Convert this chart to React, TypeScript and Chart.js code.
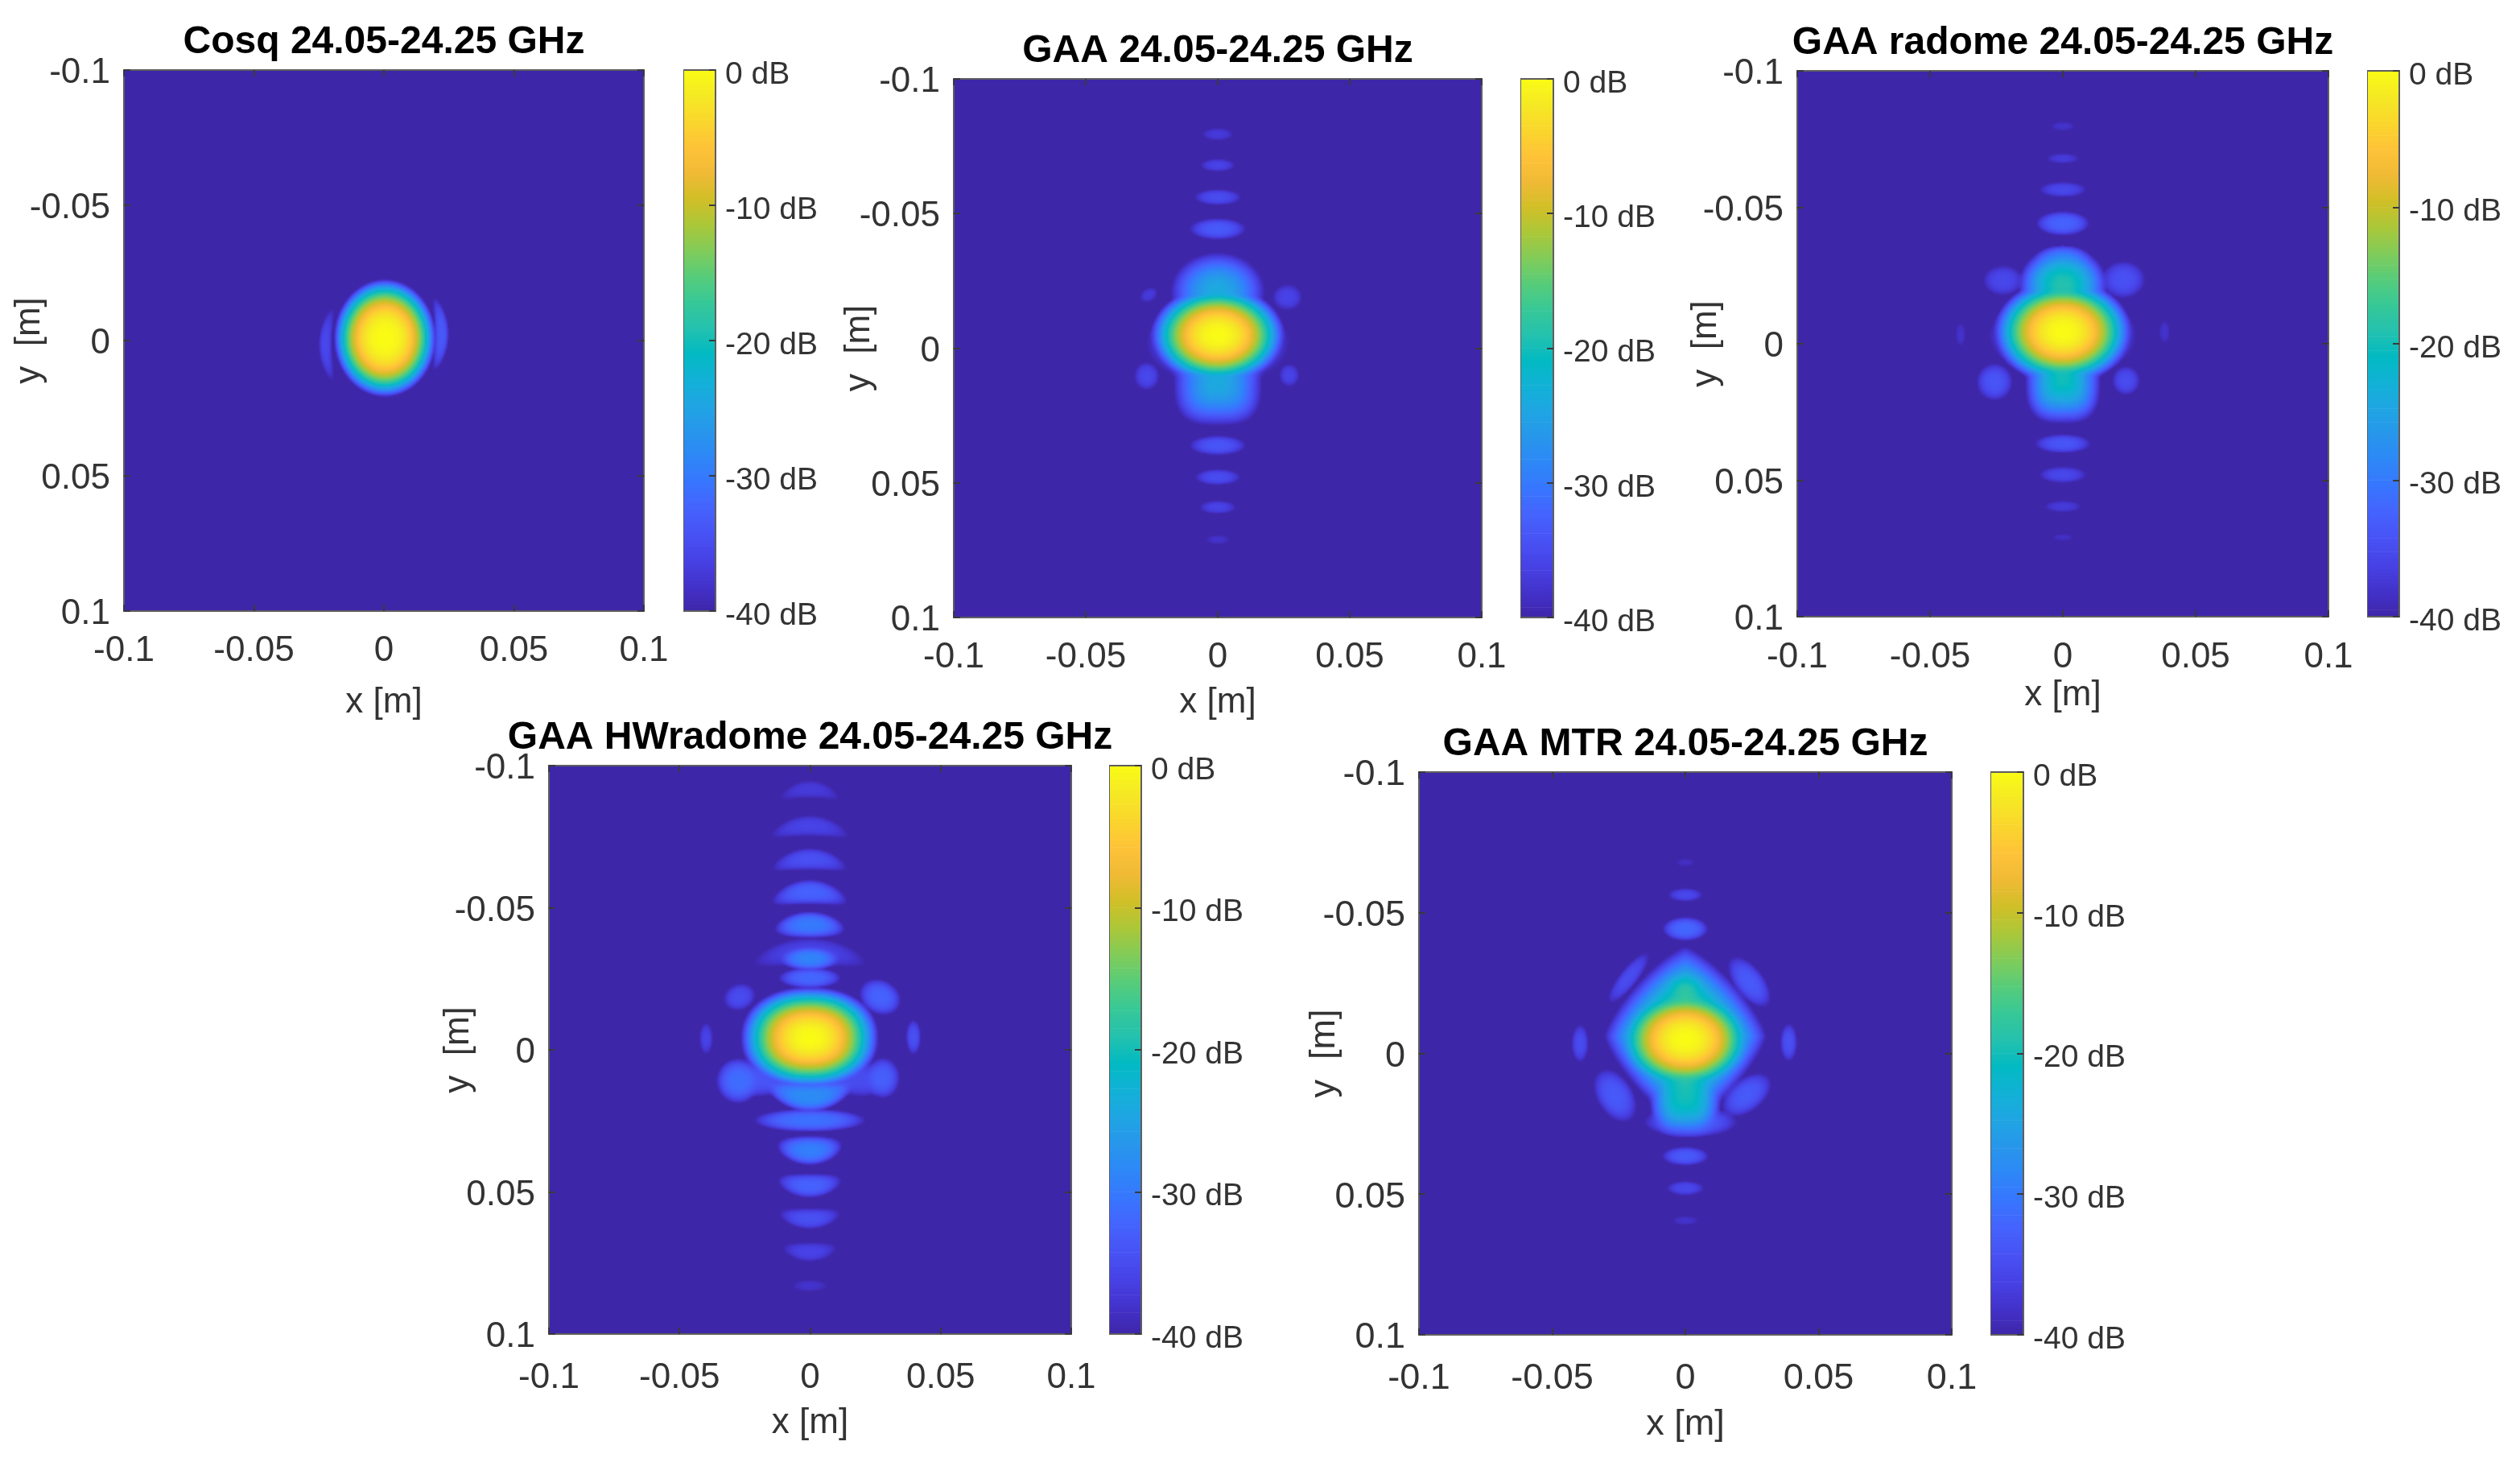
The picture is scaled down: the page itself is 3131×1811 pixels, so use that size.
import React, { useEffect, useRef } from "react";
import { Chart, registerables } from "chart.js";

Chart.register(...registerables);

const FONT = "'Liberation Sans', Arial, sans-serif";

// Axis ticks shared by all panels (metres; the y axis runs downward)
const axisTicks = [-0.1, -0.05, 0, 0.05, 0.1];
const axisTickLabels = ["-0.1", "-0.05", "0", "0.05", "0.1"];
const colorbarTicks = [-40, -30, -20, -10, 0];
const colorbarTickLabels = ["-40 dB", "-30 dB", "-20 dB", "-10 dB", "0 dB"];

// Colour map from -40 dB (first) to 0 dB (last)
const colormap = [
  [62, 38, 168], [67, 50, 203], [71, 65, 229], [72, 82, 244], [69, 99, 253], [56, 117, 254],
  [46, 135, 247], [39, 150, 235], [32, 165, 227], [18, 177, 214], [2, 186, 195], [36, 193, 174],
  [55, 200, 151], [87, 204, 122], [129, 204, 89], [171, 199, 57], [209, 191, 39], [240, 186, 54],
  [254, 195, 56], [250, 214, 45], [245, 233, 36], [249, 251, 21],
];

// Lobes: x, y, half-width, half-height (m), peak dB, roll-off, tilt (deg), bend, squareness
type Lobe = number[];

const cosqLobes: Lobe[] = [
  [0.0004, -0.0009, 0.0197, 0.0218, 0, 2.9],
  [-0.0225, 0.0015, 0.0134, 0.0026, -35.5, 3, 90, -15],
  [0.0222, -0.0024, 0.0134, 0.0028, -33.5, 3, 90, 15],
];

const gaaLobes: Lobe[] = [
  [0, -0.0047, 0.0254, 0.0185, 0, 2.35],
  [0, -0.002, 0.0272, 0.016, -30, 2],
  [0, -0.021, 0.0178, 0.0145, -24, 2],
  [0, 0.0125, 0.0168, 0.0165, -24, 2, 0, 0, 3],
  [0, -0.0794, 0.0059, 0.0023, -37],
  [0, -0.0679, 0.0066, 0.0024, -36],
  [0, -0.056, 0.0089, 0.003, -35],
  [0, -0.0442, 0.0107, 0.004, -33.5],
  [0, 0.0363, 0.0107, 0.0037, -34],
  [0, 0.0481, 0.0086, 0.003, -35],
  [0, 0.0593, 0.0069, 0.0025, -36],
  [0, 0.0713, 0.0046, 0.0016, -38],
  [-0.0261, -0.0197, 0.0035, 0.0025, -37, 3, -30],
  [0.0264, -0.0188, 0.0056, 0.0048, -36],
  [-0.0269, 0.0105, 0.0048, 0.0052, -35.5],
  [0.0271, 0.0102, 0.0038, 0.0042, -36],
];

const radomeLobes: Lobe[] = [
  [0, -0.0044, 0.026, 0.0195, 0, 2.35],
  [0, -0.003, 0.028, 0.0155, -30, 2],
  [0, -0.0215, 0.0167, 0.0145, -19, 2.2],
  [0, -0.0307, 0.0106, 0.0053, -30],
  [0, 0.0125, 0.0143, 0.0168, -20, 2, 0, 0, 3],
  [0, -0.0797, 0.0045, 0.0016, -38],
  [0, -0.0679, 0.0061, 0.0019, -37],
  [0, -0.0565, 0.0089, 0.0028, -35.5],
  [0, -0.0441, 0.0101, 0.0045, -32.5],
  [0, 0.0366, 0.0106, 0.0035, -34],
  [0, 0.048, 0.0089, 0.003, -35.5],
  [0, 0.0596, 0.0069, 0.0021, -37],
  [0, 0.0709, 0.004, 0.0013, -38.5],
  [-0.0225, -0.0232, 0.0075, 0.0055, -35.5],
  [0.0228, -0.0235, 0.0082, 0.0068, -34.5],
  [-0.0257, 0.014, 0.0068, 0.0068, -34],
  [0.0238, 0.0135, 0.0052, 0.0053, -35],
  [-0.0385, -0.0034, 0.0019, 0.0042, -38],
  [0.0383, -0.0044, 0.002, 0.0042, -38],
];

const hwRadomeLobes: Lobe[] = [
  [0, -0.0042, 0.0265, 0.018, 0, 2.35, 0, 0, 2.2],
  [0, -0.0917, 0.0113, 0.0031, -37, 3, 0, 23],
  [0, -0.0788, 0.0148, 0.0037, -36, 3, 0, 15],
  [0, -0.0671, 0.0142, 0.0039, -34.5, 3, 0, 15],
  [0, -0.0555, 0.0145, 0.0044, -32.5, 3, 0, 15],
  [0, -0.044, 0.0135, 0.0047, -30, 3, 0, 8],
  [0, -0.0321, 0.0115, 0.0043, -29],
  [0, -0.0345, 0.0215, 0.0049, -36, 3, 0, 8],
  [0, -0.0253, 0.012, 0.0037, -32],
  [0, 0.0164, 0.0175, 0.0055, -28, 3, 0, -15],
  [0, 0.0248, 0.0215, 0.0041, -31],
  [0, 0.0354, 0.0125, 0.0052, -29.5, 3, 0, -10],
  [0, 0.0478, 0.0122, 0.0043, -32.5, 3, 0, -12],
  [0, 0.0594, 0.0116, 0.0037, -34.5, 3, 0, -12],
  [0, 0.0711, 0.0102, 0.0034, -36, 3, 0, -12],
  [0, 0.083, 0.0067, 0.0021, -38],
  [-0.0269, -0.0186, 0.0062, 0.0047, -35, 3, -15],
  [0.027, -0.0186, 0.0082, 0.0061, -32.5, 3, 20],
  [-0.0397, -0.004, 0.0026, 0.0055, -36],
  [0.0398, -0.0045, 0.0029, 0.0061, -34.5],
  [-0.0274, 0.0109, 0.0085, 0.008, -31.5],
  [0.028, 0.0099, 0.0066, 0.0072, -33],
  [-0.02, 0.0105, 0.012, 0.006, -34],
  [0.02, 0.0105, 0.012, 0.006, -35],
];

const mtrLobes: Lobe[] = [
  [0, -0.0048, 0.026, 0.019, 0, 2.35],
  [0, -0.006, 0.0305, 0.032, -15, 2.5, 0, 0, 1.3],
  [0, -0.0222, 0.0121, 0.0095, -19, 2],
  [0, 0.0145, 0.0135, 0.0155, -20, 2.5, 0, 0, 3],
  [0.002, 0.0245, 0.0175, 0.0055, -33],
  [0, -0.0678, 0.0035, 0.0014, -38.5],
  [0, -0.0563, 0.0065, 0.0024, -35.5],
  [0, -0.0442, 0.0086, 0.0043, -32],
  [0, 0.0367, 0.0088, 0.0034, -33.5],
  [0, 0.0481, 0.007, 0.0026, -35.5],
  [0, 0.0596, 0.0048, 0.0016, -38],
  [-0.0213, -0.0268, 0.0113, 0.0033, -35, 3, -50],
  [0.024, -0.0253, 0.0108, 0.0054, -33.5, 3, 50],
  [-0.0264, 0.0152, 0.0105, 0.0067, -33.5, 3, 55],
  [0.023, 0.0149, 0.0105, 0.006, -33.5, 3, -35],
  [-0.0395, -0.0034, 0.0032, 0.0067, -35],
  [0.0388, -0.0038, 0.0032, 0.0067, -34.5],
];

const panels = [
  { title: "Cosq 24.05-24.25 GHz", lobes: cosqLobes, box: [154, 87, 800, 759], bar: [849, 889], xOff: 114, yOff: 117, tickPad: 28, font: 44 },
  { title: "GAA 24.05-24.25 GHz", lobes: gaaLobes, box: [1185, 98, 1841, 767], bar: [1889, 1930], xOff: 106, yOff: 117, tickPad: 28, font: 44 },
  { title: "GAA radome 24.05-24.25 GHz", lobes: radomeLobes, box: [2233, 88, 2893, 766], bar: [2941, 2981], xOff: 98, yOff: 113, tickPad: 29, font: 44 },
  { title: "GAA HWradome 24.05-24.25 GHz", lobes: hwRadomeLobes, box: [682, 951, 1331, 1657], bar: [1378, 1418], xOff: 111, yOff: 112, tickPad: 33, font: 44 },
  { title: "GAA MTR 24.05-24.25 GHz", lobes: mtrLobes, box: [1763, 959, 2425, 1658], bar: [2473, 2514], xOff: 112, yOff: 117, tickPad: 32, font: 45 },
];

const TOP = 80;
const SIDE = 150;
const BOTTOM = 140;
const TICK = -8;
const TICK_COLOR = "#3a3a3a";
const TEXT_COLOR = "#333333";
const FRAME_COLOR = "#5e5e5e";
const BLUR = "blur(0.7px)";

function colorAt(db: number): number[] {
  const t = Math.max(0, Math.min(1, (db + 40) / 40)) * (colormap.length - 1);
  const i = Math.min(colormap.length - 2, Math.floor(t));
  const f = t - i;
  return [0, 1, 2].map((k) => colormap[i][k] + (colormap[i + 1][k] - colormap[i][k]) * f);
}

function lobeValue(p: any, x: number, y: number): number {
  const dx = x - p.x;
  const dy = y - p.y;
  const a = (p.rot * Math.PI) / 180;
  const u = dx * Math.cos(a) + dy * Math.sin(a);
  const v = -dx * Math.sin(a) + dy * Math.cos(a) - p.bend * u * u;
  const d = Math.pow(Math.pow(Math.abs(u / p.rx), p.sq) + Math.pow(Math.abs(v / p.ry), p.sq), 1 / p.sq);
  if (d >= 1) return -40;
  return p.db - (40 + p.db) * Math.pow(d, p.roll);
}

const framePlugin = {
  id: "frame",
  afterDatasetsDraw(chart: any) {
    const { ctx, chartArea: a } = chart;
    ctx.save();
    ctx.strokeStyle = FRAME_COLOR;
    ctx.lineWidth = 2;
    ctx.strokeRect(a.left, a.top, a.right - a.left, a.bottom - a.top);
    ctx.restore();
  },
};

const heatPlugin = {
  id: "heat",
  beforeDatasetsDraw(chart: any) {
    const { ctx, chartArea: a, scales } = chart;
    const pts = chart.data.datasets[0].data;
    const step = 2;
    const w = Math.ceil((a.right - a.left) / step);
    const h = Math.ceil((a.bottom - a.top) / step);
    const off = document.createElement("canvas");
    off.width = w;
    off.height = h;
    const oc = off.getContext("2d")!;
    const img = oc.createImageData(w, h);
    const k = 0.6;
    for (let j = 0; j < h; j++) {
      const y = scales.y.getValueForPixel(a.top + (j + 0.5) * step);
      for (let i = 0; i < w; i++) {
        const x = scales.x.getValueForPixel(a.left + (i + 0.5) * step);
        let sum = 0;
        for (const p of pts) {
          const v = lobeValue(p, x, y);
          if (v > -40) sum += Math.exp(k * (v + 40));
        }
        const db = sum > 0 ? Math.log(Math.max(sum, 1)) / k - 40 : -40;
        const c = colorAt(Math.min(db, 0));
        const o = (j * w + i) * 4;
        img.data[o] = c[0];
        img.data[o + 1] = c[1];
        img.data[o + 2] = c[2];
        img.data[o + 3] = 255;
      }
    }
    oc.putImageData(img, 0, 0);
    ctx.save();
    ctx.imageSmoothingEnabled = true;
    ctx.imageSmoothingQuality = "high";
    ctx.drawImage(off, a.left, a.top, a.right - a.left, a.bottom - a.top);
    ctx.restore();
  },
};

function Panel({ p }: { p: (typeof panels)[number] }) {
  const ref = useRef<HTMLCanvasElement>(null);
  useEffect(() => {
    const tickFont = { family: FONT, size: p.font, lineHeight: 1 };
    const mainGrid = { drawOnChartArea: false, drawTicks: true, tickLength: TICK, tickColor: TICK_COLOR, lineWidth: 2, z: 1 };
    const ticksFor = (scale: any) => {
      scale.ticks = axisTicks.map((value) => ({ value }));
    };
    const labelFor = (v: number) => axisTickLabels[axisTicks.findIndex((q) => Math.abs(q - v) < 1e-6)];
    const common = { min: -0.1, max: 0.1, afterBuildTicks: ticksFor, border: { display: false } };
    const chart = new Chart(ref.current!, {
      type: "scatter",
      data: {
        datasets: [
          {
            data: p.lobes.map((q) => ({
              x: q[0], y: q[1], rx: q[2], ry: q[3], db: q[4],
              roll: q[5] ?? 3, rot: q[6] ?? 0, bend: q[7] ?? 0, sq: q[8] ?? 2,
            })),
            pointRadius: 0,
            pointHoverRadius: 0,
          },
        ],
      } as any,
      options: {
        animation: false,
        responsive: false,
        events: [],
        plugins: {
          legend: { display: false },
          tooltip: { enabled: false },
          title: {
            display: true,
            text: p.title,
            color: "#000000",
            font: { family: FONT, size: 48, weight: "bold", lineHeight: 1 },
            padding: { top: TOP - 48 - 10, bottom: 10 },
          },
        },
        scales: {
          x: {
            ...common,
            type: "linear",
            position: "bottom",
            grid: mainGrid,
            ticks: { font: tickFont, color: TEXT_COLOR, padding: p.tickPad - TICK, maxRotation: 0, autoSkip: false, callback: labelFor },
            title: { display: true, text: "x [m]", color: TEXT_COLOR, font: tickFont, padding: { top: 0, bottom: BOTTOM - p.font / 2 - p.xOff } },
            afterFit: (s: any) => { s.height = BOTTOM; },
          },
          y: {
            ...common,
            type: "linear",
            position: "left",
            reverse: true,
            grid: mainGrid,
            ticks: { font: tickFont, color: TEXT_COLOR, padding: 17 - TICK, autoSkip: false, labelOffset: 4, callback: labelFor },
            title: { display: true, text: "y  [m]", color: TEXT_COLOR, font: tickFont, padding: { top: SIDE - p.font / 2 - p.yOff, bottom: 0 } },
            afterFit: (s: any) => { s.width = SIDE; },
          },
          x2: {
            ...common,
            type: "linear",
            position: "top",
            grid: mainGrid,
            ticks: { display: false },
            afterFit: (s: any) => { s.height = 0; },
          },
          y2: {
            ...common,
            type: "linear",
            position: "right",
            reverse: true,
            grid: mainGrid,
            ticks: { display: false },
            afterFit: (s: any) => { s.width = SIDE; },
          },
        },
      } as any,
      plugins: [heatPlugin, framePlugin],
    });
    return () => chart.destroy();
  }, [p]);
  const [l, t, r, b] = p.box;
  return (
    <canvas
      ref={ref}
      width={r - l + SIDE * 2}
      height={b - t + TOP + BOTTOM}
      style={{ position: "absolute", left: l - SIDE, top: t - TOP, filter: BLUR }}
    />
  );
}

function Colorbar({ p }: { p: (typeof panels)[number] }) {
  const ref = useRef<HTMLCanvasElement>(null);
  useEffect(() => {
    const levels: number[] = [];
    for (let i = 0; i < 160; i++) levels.push(-0.25 - i * 0.25);
    const chart = new Chart(ref.current!, {
      type: "bar",
      data: {
        labels: ["dB"],
        datasets: levels.map((lv) => {
          const c = colorAt(lv + 0.125);
          return {
            data: [-0.25],
            backgroundColor: `rgb(${c[0]},${c[1]},${c[2]})`,
            borderWidth: 0,
            barPercentage: 1,
            categoryPercentage: 1,
          };
        }),
      } as any,
      options: {
        animation: false,
        responsive: false,
        events: [],
        layout: { padding: { top: TOP, bottom: BOTTOM, left: 0, right: 0 } },
        plugins: { legend: { display: false }, tooltip: { enabled: false }, title: { display: false } },
        scales: {
          x: { stacked: true, display: false, offset: true },
          y: {
            stacked: true,
            position: "right",
            min: -40,
            max: 0,
            border: { display: false },
            afterBuildTicks: (s: any) => { s.ticks = colorbarTicks.map((value) => ({ value })); },
            grid: { drawOnChartArea: false, drawTicks: true, tickLength: TICK, tickColor: TICK_COLOR, lineWidth: 2, z: 1 },
            ticks: {
              font: { family: FONT, size: 39, lineHeight: 1 },
              color: TEXT_COLOR,
              padding: 12 - TICK,
              autoSkip: false,
              labelOffset: 6,
              callback: (v: number) => colorbarTickLabels[colorbarTicks.indexOf(v)],
            },
            afterFit: (s: any) => { s.width = 130; },
          },
        },
      } as any,
      plugins: [framePlugin],
    });
    return () => chart.destroy();
  }, [p]);
  const [, t, , b] = p.box;
  const [bl, br] = p.bar;
  return (
    <canvas
      ref={ref}
      width={br - bl + 130}
      height={b - t + TOP + BOTTOM}
      style={{ position: "absolute", left: bl, top: t - TOP, filter: BLUR }}
    />
  );
}

export default function App() {
  return (
    <div style={{ position: "absolute", left: 0, top: 0, width: 3131, height: 1811, overflow: "hidden", background: "#ffffff" }}>
      {panels.map((p) => (
        <React.Fragment key={p.title}>
          <Panel p={p} />
          <Colorbar p={p} />
        </React.Fragment>
      ))}
    </div>
  );
}
